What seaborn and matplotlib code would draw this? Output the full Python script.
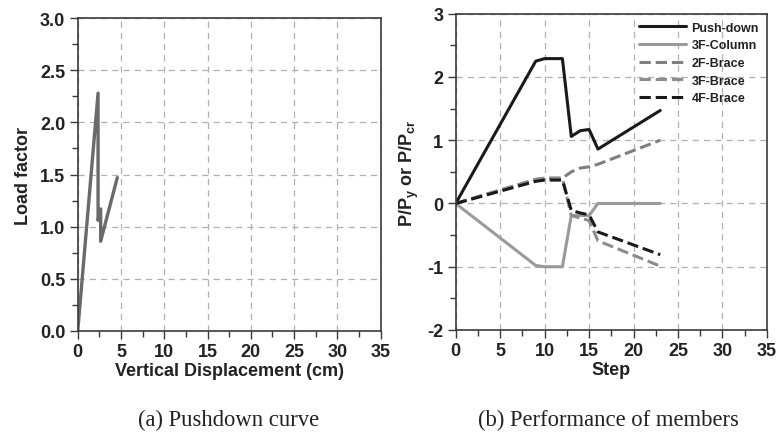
import matplotlib
matplotlib.use("Agg")
import matplotlib.pyplot as plt
from matplotlib.ticker import MultipleLocator
import seaborn as sns
import pandas as pd

# ---- data ----
disp_cm = [0, 2.35, 2.35, 2.65, 2.65, 4.57]
load_factor = [0, 2.28, 1.06, 1.17, 0.86, 1.47]

step = [0, 9, 10, 12, 13, 14, 15, 16, 23]
push_down = [0, 2.25, 2.29, 2.29, 1.06, 1.15, 1.17, 0.86, 1.47]
col_3f = [0, -0.98, -1.0, -1.0, -0.19, -0.19, -0.19, 0.0, 0.0]
brace_2f = [0, 0.38, 0.40, 0.40, 0.50, 0.56, 0.58, 0.62, 1.0]
brace_3f = [0, 0.38, 0.40, 0.40, -0.19, -0.23, -0.27, -0.59, -0.99]
brace_4f = [0, 0.35, 0.37, 0.37, -0.11, -0.15, -0.18, -0.45, -0.81]

series_names = ["Push-down", "3F-Column", "2F-Brace", "3F-Brace", "4F-Brace"]
series_vals = [push_down, col_3f, brace_2f, brace_3f, brace_4f]
series_colors = ["#1a1a1a", "#9a9a9a", "#7f7f7f", "#8c8c8c", "#1a1a1a"]
series_dash = ["-", "-", "--", "--", "--"]

sns.set_theme(style="white")
plt.rcParams["font.family"] = ["Liberation Sans", "DejaVu Sans"]
plt.rcParams["axes.unicode_minus"] = False
plt.rcParams["mathtext.fontset"] = "custom"
plt.rcParams["mathtext.rm"] = "Liberation Sans:bold"
plt.rcParams["mathtext.it"] = "Liberation Sans:bold"
plt.rcParams["mathtext.bf"] = "Liberation Sans:bold"

fig = plt.figure(figsize=(7.78, 4.35), dpi=100)
axL = fig.add_axes([0.0999, 0.2368, 0.3894, 0.7195])
axR = fig.add_axes([0.5857, 0.2391, 0.4001, 0.7271])

spine_c = "#3a3a3a"
grid_kw = dict(color="#b0b0b0", linestyle=(0, (5, 4)), linewidth=0.9)

def style_axis(ax):
    for s in ax.spines.values():
        s.set_color(spine_c)
        s.set_linewidth(1.2)
        s.set_visible(True)
    ax.tick_params(which="both", bottom=True, left=True, top=False, right=False)
    ax.tick_params(which="major", direction="out", length=6, width=1.0,
                   color=spine_c, labelsize=13, pad=3)
    ax.tick_params(which="minor", direction="out", length=4, width=1.0,
                   color=spine_c)
    for lab in ax.get_xticklabels() + ax.get_yticklabels():
        lab.set_fontweight("bold")
        lab.set_color("#222222")
    ax.grid(True, which="major", **grid_kw)
    ax.set_axisbelow(True)

# ---- left: pushdown curve ----
dfL = pd.DataFrame({"disp": disp_cm, "load": load_factor})
sns.lineplot(data=dfL, x="disp", y="load", ax=axL, sort=False, estimator=None,
             color="#6a6a6a", linewidth=2.4)
axL.set_xlim(0, 35)
axL.set_ylim(0, 3.0)
axL.xaxis.set_major_locator(MultipleLocator(5))
axL.xaxis.set_minor_locator(MultipleLocator(2.5))
axL.yaxis.set_major_locator(MultipleLocator(0.5))
axL.yaxis.set_minor_locator(MultipleLocator(0.25))
axL.set_yticks([0, 0.5, 1.0, 1.5, 2.0, 2.5, 3.0])
axL.set_yticklabels(["0.0", "0.5", "1.0", "1.5", "2.0", "2.5", "3.0"])
axL.set_xlabel("Vertical Displacement (cm)", fontsize=13, fontweight="bold",
               labelpad=1, color="#222222")
axL.set_ylabel("Load factor", fontsize=13, fontweight="bold", labelpad=6,
               color="#222222")
style_axis(axL)

# ---- right: performance of members ----
rows = []
for name, vals in zip(series_names, series_vals):
    for s, v in zip(step, vals):
        rows.append({"Step": s, "val": v, "member": name})
dfR = pd.DataFrame(rows)
for name, c, ls in zip(series_names, series_colors, series_dash):
    sub = dfR[dfR["member"] == name]
    sns.lineplot(data=sub, x="Step", y="val", ax=axR, sort=False, estimator=None,
                 color=c, linestyle=ls, linewidth=2.2, label=name)
axR.set_xlim(0, 35)
axR.set_ylim(-2, 3)
axR.xaxis.set_major_locator(MultipleLocator(5))
axR.xaxis.set_minor_locator(MultipleLocator(2.5))
axR.yaxis.set_major_locator(MultipleLocator(1))
axR.yaxis.set_minor_locator(MultipleLocator(0.5))
axR.set_xlabel("Step", fontsize=13, fontweight="bold", labelpad=1, color="#222222")
axR.set_ylabel(r"P/P$_\mathregular{y}$ or P/P$_\mathregular{cr}$", fontsize=13,
               fontweight="bold", labelpad=4, color="#222222")
style_axis(axR)
leg = axR.legend(loc="upper right", frameon=False, fontsize=9, handlelength=3.8,
                 handletextpad=0.4, labelspacing=0.45, borderaxespad=0.25)
for t in leg.get_texts():
    t.set_fontweight("bold")
    t.set_color("#222222")

# ---- captions ----
fig.text(0.294, 0.034, "(a) Pushdown curve", ha="center", va="center",
         fontsize=16.3, family=["Liberation Serif", "DejaVu Serif"], color="#222222")
fig.text(0.782, 0.034, "(b) Performance of members", ha="center", va="center",
         fontsize=16.3, family=["Liberation Serif", "DejaVu Serif"], color="#222222")

fig.savefig("out.png", dpi=100)
